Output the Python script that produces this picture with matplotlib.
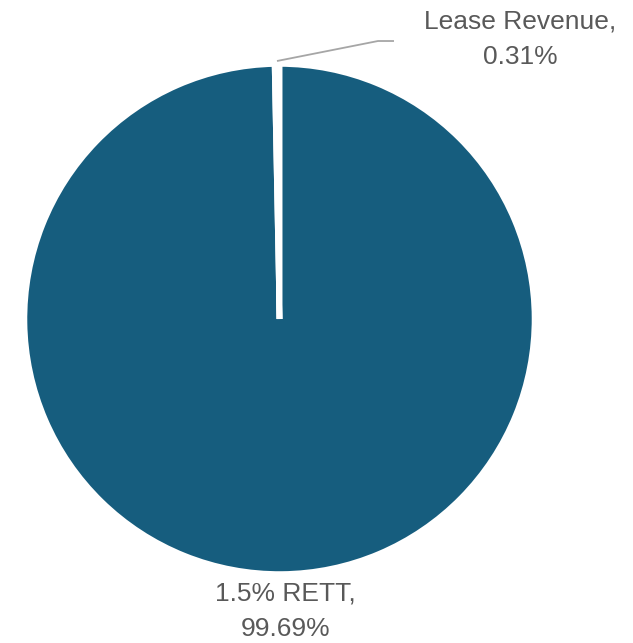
import numpy as np
import matplotlib
matplotlib.use('Agg')
import matplotlib.pyplot as plt

# Revenue share by source
sources = ['1.5% RETT', 'Lease Revenue']
shares = [99.69, 0.31]
slice_colors = ['#165d7e', '#ffffff']

W, H = 633, 643
fig = plt.figure(figsize=(W / 100, H / 100), dpi=100)
ax = fig.add_axes([0, 0, 1, 1])

cx, cy, r = 279.5, 324, 255
wedges, _ = ax.pie(
    shares, colors=slice_colors, startangle=90, counterclock=False,
    center=(cx, cy), radius=r, frame=True,
    wedgeprops=dict(edgecolor='white', linewidth=4.0)
)
ax.set_xlim(0, W)
ax.set_ylim(0, H)
ax.set_aspect('equal')
ax.axis('off')

txt_kw = dict(fontsize=19, color='#595959', ha='center', va='center',
              family='Liberation Sans', linespacing=1.6)

# Big slice label sits just below the pie
ax.text(cx + 6, cy - r - 37, f"{sources[0]},\n{shares[0]:.2f}%", **txt_kw)

# Small slice gets a leader line up to the right
lease = wedges[1]
mid = np.deg2rad((lease.theta1 + lease.theta2) / 2)
x0, y0 = cx + (r + 3) * np.cos(mid), cy + (r + 3) * np.sin(mid)
ax.plot([x0, x0 + 101, x0 + 117], [y0, y0 + 20, y0 + 20],
        color='#a6a6a6', linewidth=1.3, solid_capstyle='butt')
ax.text(x0 + 243, y0 + 22, f"{sources[1]},\n{shares[1]:.2f}%", **txt_kw)

fig.savefig('out.png', dpi=100, facecolor='white')
